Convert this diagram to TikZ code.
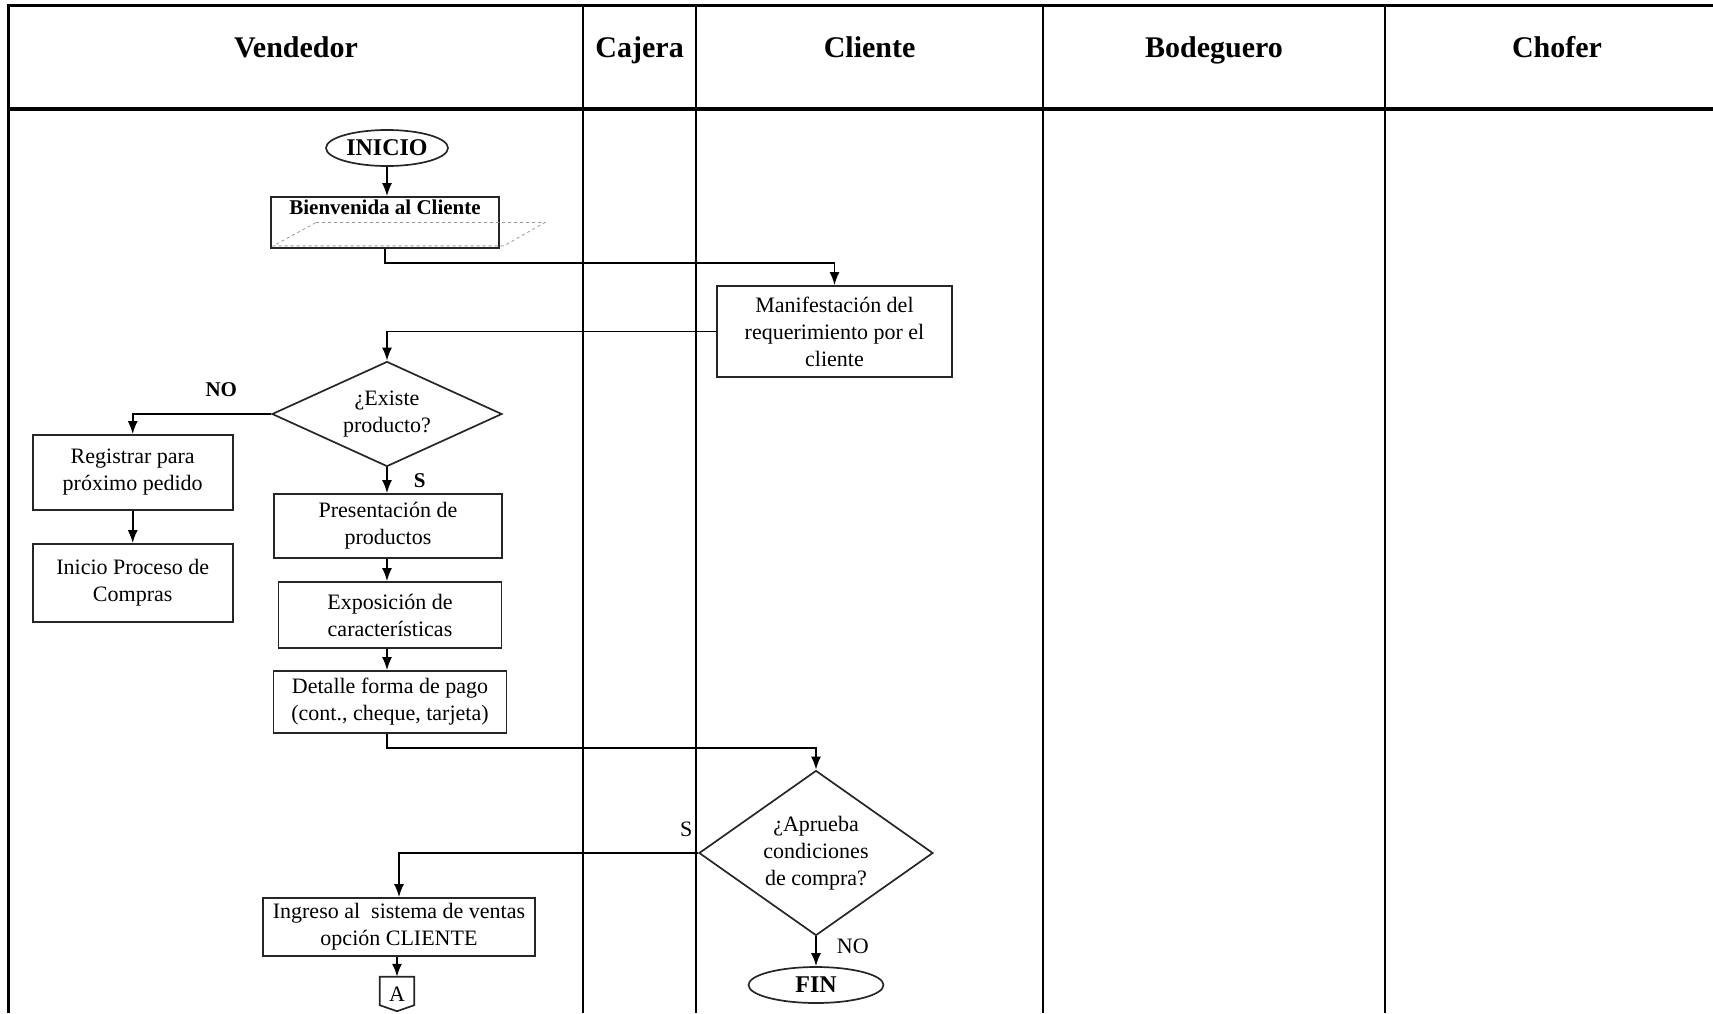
\documentclass[tikz,border=0pt]{standalone}
\usepackage{fontspec}
\setmainfont{Liberation Serif}
\usetikzlibrary{shapes.geometric}
\usetikzlibrary{arrows.meta}
\usetikzlibrary{calc}

\begin{document}
\begin{tikzpicture}[x=1pt, y=-1pt,
    lane/.style={line width=2pt},
    border/.style={line width=3.5pt},
    head/.style={font=\fontsize{30}{36}\selectfont\bfseries, anchor=base},
    txt/.style={font=\fontsize{22}{27}\selectfont, align=center},
    proc/.style={txt, draw=black!85, line width=1.7pt, rectangle, inner sep=2pt},
    term/.style={draw=black!85, line width=1.7pt, ellipse, inner sep=0pt, font=\fontsize{24}{28}\selectfont\bfseries},
    decide/.style={txt, draw=black!85, line width=1.7pt, diamond, inner sep=0pt},
    flow/.style={line width=1.8pt, -{Latex[length=13pt,width=10pt]}},
    lbl/.style={font=\fontsize{21}{25}\selectfont\bfseries, inner sep=1pt},
    lblr/.style={font=\fontsize{22}{26}\selectfont, inner sep=1pt}]

    \useasboundingbox (0,0) rectangle (1713,1013);

    % draw swimlanes
    \draw[border] (7,5.5) -- (1713,5.5);
    \draw[border] (7,109) -- (1713,109);
    \draw[border] (8.7,3.75) -- (8.7,1013);
    \foreach \x in {583.4,695.9,1043.3,1385.3}
      \draw[lane] (\x,5.5) -- (\x,1013);

    % draw lane titles
    \node[head] (tvend) at (296,57) {Vendedor};
    \node[head] (tcaj) at (639.6,57) {Cajera};
    \node[head] (tcli) at (869.6,57) {Cliente};
    \node[head] (tbod) at (1214,57) {Bodeguero};
    \node[head] (tcho) at (1557,57) {Chofer};

    % draw nodes
    \node[term, minimum width=122pt, minimum height=36pt] (inicio) at (387,148) {INICIO};
    \node[proc, minimum width=228pt, minimum height=51pt,
      label={[lbl, anchor=north, yshift=-3pt]north:Bienvenida al Cliente}] (bienv) at (385,222.5) {};
    \draw[black!40, dashed, line width=0.8pt] ($(bienv.west)+(46,0)$) -- ($(bienv.east)+(45,0)$)
      -- ($(bienv.south east)+(4,-3)$) -- ($(bienv.south west)+(3,-3)$) -- cycle;
    \node[proc, minimum width=235pt, minimum height=91pt] (manif) at (834.5,331.5) {Manifestación del\\requerimiento por el\\cliente};
    \node[decide, minimum width=230pt, minimum height=105pt, shape aspect=2.2] (exist) at (387,414) {¿Existe\\producto?};
    \node[proc, minimum width=200pt, minimum height=75pt] (reg) at (132.7,472.5) {Registrar para\\próximo pedido};
    \node[proc, minimum width=200pt, minimum height=78pt] (inic) at (132.7,583) {Inicio Proceso de\\Compras};
    \node[proc, minimum width=228pt, minimum height=64pt] (pres) at (388,526) {Presentación de\\productos};
    \node[proc, minimum width=223pt, minimum height=66pt] (expo) at (390,615) {Exposición de\\características};
    \node[proc, minimum width=233pt, minimum height=62pt] (det) at (390,702) {Detalle forma de pago\\(cont., cheque, tarjeta)};
    \node[decide, minimum width=234pt, minimum height=165pt, shape aspect=1.42] (aprueba) at (816,853) {¿Aprueba\\condiciones\\de compra?};
    \node[proc, minimum width=272pt, minimum height=58pt] (ingreso) at (399,927) {Ingreso al\ \ sistema de ventas\\opción CLIENTE};
    \node[lblr, minimum width=34pt, minimum height=34pt, inner sep=0pt] (conA) at (397,994) {A};
    \draw[black!85, line width=1.7pt] (conA.north west) -- (conA.north east) -- ($(conA.south east)+(0,-6)$)
      -- (conA.south) -- ($(conA.south west)+(0,-6)$) -- cycle;
    \node[term, minimum width=135pt, minimum height=36pt] (fin) at (816,985) {FIN};

    % draw connectors
    \draw[flow] (inicio.south) -- (inicio.south |- bienv.north);
    \draw[flow] (bienv.south) -- ++(0,14) -| (manif.north);
    \draw[flow] (manif.west) -| (exist.north);
    \draw[flow] (exist.west) -| node[lbl, pos=0.18, above=15pt] {NO} (reg.north);
    \draw[flow] (reg) -- (inic);
    \draw[flow] (exist.south) -- node[lbl, right=25pt] {S} (exist.south |- pres.north);
    \draw[flow] (pres.south -| exist.south) -- (exist.south |- expo.north);
    \draw[flow] (expo.south -| exist.south) -- (exist.south |- det.north);
    \draw[flow] (det.south -| exist.south) -- ++(0,14) -| (aprueba.north);
    \draw[flow] (aprueba.west) -| node[lblr, pos=0.02, above=14pt] {S} (ingreso.north);
    \draw[flow] (aprueba.south) -- node[lblr, pos=0.32, right=19pt] {NO} (fin.north);
    \draw[flow] (ingreso.south -| conA.north) -- (conA.north);
\end{tikzpicture}
\end{document}
